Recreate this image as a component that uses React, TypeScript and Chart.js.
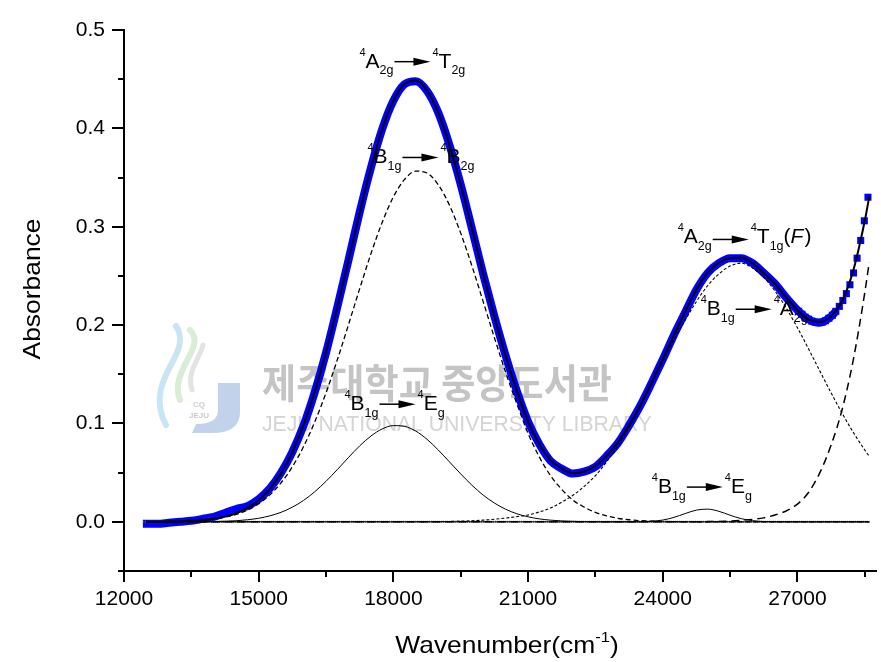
import React, { useEffect, useRef } from "react";
import { Chart, registerables } from "chart.js";

Chart.register(...registerables);

// ---------- DATA ----------
const gridWave = [
  12500, 12750, 13000, 13250, 13500, 13750, 14000, 14250, 14500, 14750,
  15000, 15250, 15500, 15750, 16000, 16250, 16500, 16750, 17000, 17250,
  17500, 17750, 18000, 18250, 18500, 18750, 19000, 19250, 19500, 19750,
  20000, 20250, 20500, 20750, 21000, 21250, 21500, 21750, 22000, 22250,
  22500, 22750, 23000, 23250, 23500, 23750, 24000, 24250, 24500, 24750,
  25000, 25250, 25500, 25750, 26000, 26250, 26500, 26750, 27000, 27250,
  27500, 27750, 28000, 28250, 28500, 28600,
];

// 4B1g -> 4B2g component (dashed)
const compB2g = [
  0.0001, 0.0001, 0.0003, 0.0005, 0.0009, 0.0016, 0.0028, 0.0047, 0.0076, 0.012,
  0.0184, 0.0274, 0.0398, 0.056, 0.0765, 0.1017, 0.1312, 0.1645, 0.2004, 0.2371,
  0.2725, 0.3044, 0.3303, 0.3481, 0.3565, 0.3546, 0.3427, 0.3218, 0.2935, 0.2601,
  0.2239, 0.1873, 0.1521, 0.1201, 0.09, 0.066, 0.047, 0.033, 0.022, 0.015,
  0.0095, 0.006, 0.0036, 0.0021, 0.0012, 0.0007, 0.0004, 0.0002, 0.0001, 0,
  0, 0, 0, 0, 0, 0, 0, 0, 0, 0,
  0, 0, 0, 0, 0, 0,
];

// 4B1g -> 4Eg component near 18000
const compEgLow = [
  0, 0, 0, 0, 0.0001, 0.0001, 0.0003, 0.0006, 0.0011, 0.0021,
  0.0036, 0.0061, 0.0097, 0.0149, 0.0218, 0.0306, 0.0412, 0.053, 0.0654, 0.0772,
  0.0872, 0.0944, 0.0978, 0.097, 0.0922, 0.0839, 0.073, 0.0609, 0.0487, 0.0372,
  0.0272, 0.0191, 0.0128, 0.0082, 0.0051, 0.003, 0.0017, 0.0009, 0.0005, 0.0002,
  0.0001, 0, 0, 0, 0, 0, 0, 0, 0, 0,
  0, 0, 0, 0, 0, 0, 0, 0, 0, 0,
  0, 0, 0, 0, 0, 0,
];

// 4B1g -> 4A2g component near 25600
const compA2g = [
  0, 0, 0, 0, 0, 0, 0, 0, 0, 0,
  0, 0, 0, 0, 0, 0, 0, 0, 0, 0,
  0, 0, 0, 0, 0.0001, 0.0001, 0.0002, 0.0004, 0.0007, 0.0011,
  0.0017, 0.0026, 0.0038, 0.0053, 0.007, 0.01, 0.014, 0.02, 0.027, 0.036,
  0.047, 0.061, 0.077, 0.096, 0.117, 0.14, 0.163, 0.185, 0.205, 0.224,
  0.24, 0.252, 0.26, 0.263, 0.258, 0.2485, 0.2347, 0.2173, 0.1973, 0.1756,
  0.1532, 0.1311, 0.11, 0.0905, 0.073, 0.0666,
];

// 4B1g -> 4Eg component near 25000
const compEgHigh = [
  0, 0, 0, 0, 0, 0, 0, 0, 0, 0,
  0, 0, 0, 0, 0, 0, 0, 0, 0, 0,
  0, 0, 0, 0, 0, 0, 0, 0, 0, 0,
  0, 0, 0, 0, 0, 0, 0, 0, 0, 0,
  0, 0, 0, 0, 0.0001, 0.0006, 0.0018, 0.0045, 0.0084, 0.0119,
  0.0129, 0.0107, 0.0067, 0.0032, 0.0012, 0.0003, 0.0001, 0, 0, 0,
  0, 0, 0, 0, 0, 0,
];

// UV edge band (long dashes)
const compUV = [
  0, 0, 0, 0, 0, 0, 0, 0, 0, 0,
  0, 0, 0, 0, 0, 0, 0, 0, 0, 0,
  0, 0, 0, 0, 0, 0, 0, 0, 0, 0,
  0, 0, 0, 0, 0, 0, 0, 0, 0, 0,
  0, 0, 0, 0, 0, 0, 0, 0, 0, 0,
  0.0002, 0.0004, 0.0008, 0.0015, 0.0025, 0.004, 0.007, 0.011, 0.018, 0.03,
  0.05, 0.078, 0.115, 0.166, 0.233, 0.264,
];

// cumulative fit (solid black)
const fitAbs = [
  0.0001, 0.0001, 0.0003, 0.0005, 0.001, 0.0017, 0.0031, 0.0053, 0.0087, 0.0141,
  0.022, 0.0335, 0.0495, 0.0709, 0.0983, 0.1323, 0.1724, 0.2175, 0.2658, 0.3143,
  0.3597, 0.3988, 0.4281, 0.4451, 0.4487, 0.4385, 0.4159, 0.383, 0.3429, 0.2984,
  0.2528, 0.209, 0.1689, 0.1336, 0.102, 0.079, 0.0627, 0.054, 0.0495, 0.0512,
  0.0566, 0.067, 0.0806, 0.0981, 0.1183, 0.1413, 0.1652, 0.1897, 0.2135, 0.2359,
  0.2533, 0.2634, 0.268, 0.2685, 0.263, 0.2528, 0.2418, 0.2283, 0.2153, 0.2056,
  0.2032, 0.2091, 0.225, 0.2565, 0.306, 0.3306,
];

// measured spectrum (blue squares)
const measuredWave = [
  12420, 12500, 12750, 13000, 13250, 13500, 13750, 14000, 14250, 14500, 14750,
  15000, 15250, 15500, 15750, 16000, 16250, 16500, 16750, 17000, 17250,
  17500, 17750, 18000, 18250, 18500, 18750, 19000, 19250, 19500, 19750,
  20000, 20250, 20500, 20750, 21000, 21250, 21500, 21750, 22000, 22250,
  22500, 22750, 23000, 23250, 23500, 23750, 24000, 24250, 24500, 24750,
  25000, 25250, 25500, 25750, 26000, 26250, 26500, 26750,
  27027, 27100, 27174, 27248, 27322, 27397, 27473, 27548, 27624, 27701,
  27778, 27855, 27933, 28011, 28090, 28169, 28249, 28329, 28409, 28490, 28571,
];
const measuredAbs = [
  -0.002, -0.002, -0.002, -0.001, 0.0, 0.001, 0.003, 0.005, 0.009, 0.013, 0.016,
  0.023, 0.034, 0.05, 0.071, 0.098, 0.132, 0.172, 0.218, 0.266, 0.315,
  0.36, 0.399, 0.428, 0.445, 0.448, 0.438, 0.416, 0.383, 0.343, 0.298,
  0.252, 0.209, 0.169, 0.133, 0.102, 0.079, 0.062, 0.054, 0.049, 0.051,
  0.056, 0.067, 0.08, 0.098, 0.118, 0.141, 0.165, 0.19, 0.213, 0.236,
  0.253, 0.263, 0.268, 0.268, 0.263, 0.253, 0.242, 0.228,
  0.214, 0.211, 0.208, 0.206, 0.204, 0.203, 0.2025, 0.203, 0.2045, 0.207,
  0.21, 0.214, 0.219, 0.225, 0.232, 0.241, 0.253, 0.268, 0.286, 0.306, 0.33,
];

const baselineWave = [12420, 28600];
const baselineAbs = [0, 0];

// axis ticks (major ones carry labels)
const xTickValues = [12000, 13500, 15000, 16500, 18000, 19500, 21000, 22500, 24000, 25500, 27000, 28500];
const xTickLabels = ["12000", "", "15000", "", "18000", "", "21000", "", "24000", "", "27000", ""];
const yTickValues = [-0.05, 0, 0.05, 0.1, 0.15, 0.2, 0.25, 0.3, 0.35, 0.4, 0.45, 0.5];
const yTickLabels = ["", "0.0", "", "0.1", "", "0.2", "", "0.3", "", "0.4", "", "0.5"];

// transition labels: anchor = (wavenumber, absorbance) of text baseline start
const transitionLabels = [
  { wn: 17244, abs: 0.4617, from: ["A", "2g"], to: ["T", "2g"], tail: "", dy: 6 },
  { wn: 17422, abs: 0.3643, from: ["B", "1g"], to: ["B", "2g"], tail: "", dy: 6 },
  { wn: 16911, abs: 0.1135, from: ["B", "1g"], to: ["E", "g"], tail: "", dy: 6 },
  { wn: 23756, abs: 0.0292, from: ["B", "1g"], to: ["E", "g"], tail: "", dy: 6 },
  { wn: 24333, abs: 0.283, from: ["A", "2g"], to: ["T", "1g"], tail: "F", dy: 4 },
  { wn: 24844, abs: 0.21, from: ["B", "1g"], to: ["A", "2g"], tail: "", dy: 6 },
];

const xTitle = "Wavenumber(cm";
const xTitleSup = "-1";
const yTitle = "Absorbance";
const watermarkKo = "제주대학교 중앙도서관";
const watermarkEn = "JEJU NATIONAL UNIVERSITY LIBRARY";

// ---------- helpers ----------
const FONT = "Arial, 'Liberation Sans', sans-serif";
const pts = (xs: number[], ys: number[]) => xs.map((x, i) => ({ x, y: ys[i] }));

function drawTransition(ctx: CanvasRenderingContext2D, x: number, y: number, lab: any) {
  ctx.save();
  ctx.fillStyle = "#000";
  ctx.strokeStyle = "#000";
  ctx.textBaseline = "alphabetic";
  ctx.textAlign = "left";
  let cx = x;
  const part = (letter: string, sub: string) => {
    ctx.font = `11px ${FONT}`;
    ctx.fillText("4", cx, y - 12);
    cx += ctx.measureText("4").width;
    ctx.font = `21px ${FONT}`;
    ctx.fillText(letter, cx, y);
    cx += ctx.measureText(letter).width;
    ctx.font = `12.5px ${FONT}`;
    ctx.fillText(sub, cx, y + 6.5);
    cx += ctx.measureText(sub).width;
  };
  part(lab.from[0], lab.from[1]);
  const ax0 = cx + 1;
  const ax1 = ax0 + 36;
  const ay = y - lab.dy;
  ctx.lineWidth = 1.5;
  ctx.beginPath();
  ctx.moveTo(ax0, ay);
  ctx.lineTo(ax1 - 12, ay);
  ctx.stroke();
  ctx.beginPath();
  ctx.moveTo(ax1, ay);
  ctx.lineTo(ax1 - 17, ay - 4);
  ctx.lineTo(ax1 - 17, ay + 4);
  ctx.closePath();
  ctx.fill();
  cx = ax1 + 2;
  part(lab.to[0], lab.to[1]);
  if (lab.tail) {
    ctx.font = `21px ${FONT}`;
    ctx.fillText("(", cx, y);
    cx += ctx.measureText("(").width;
    ctx.font = `italic 21px ${FONT}`;
    ctx.fillText(lab.tail, cx, y);
    cx += ctx.measureText(lab.tail).width + 1;
    ctx.font = `21px ${FONT}`;
    ctx.fillText(")", cx, y);
  }
  ctx.restore();
}

function drawWatermark(ctx: CanvasRenderingContext2D) {
  ctx.save();
  ctx.lineCap = "round";
  // logo swooshes
  ctx.lineWidth = 6;
  ctx.strokeStyle = "rgba(160,205,235,0.55)";
  ctx.beginPath();
  ctx.moveTo(166, 425);
  ctx.bezierCurveTo(150, 395, 168, 372, 176, 355);
  ctx.bezierCurveTo(183, 340, 180, 332, 176, 326);
  ctx.stroke();
  ctx.strokeStyle = "rgba(185,220,180,0.55)";
  ctx.beginPath();
  ctx.moveTo(180, 400);
  ctx.bezierCurveTo(172, 380, 188, 362, 193, 348);
  ctx.bezierCurveTo(196, 340, 194, 334, 190, 330);
  ctx.stroke();
  ctx.strokeStyle = "rgba(215,215,215,0.7)";
  ctx.lineWidth = 5;
  ctx.beginPath();
  ctx.moveTo(192, 390);
  ctx.bezierCurveTo(186, 372, 200, 358, 203, 345);
  ctx.stroke();
  // J
  ctx.fillStyle = "rgba(175,195,228,0.75)";
  ctx.beginPath();
  ctx.moveTo(218, 383);
  ctx.lineTo(240, 383);
  ctx.lineTo(240, 412);
  ctx.quadraticCurveTo(240, 433, 212, 433);
  ctx.lineTo(192, 433);
  ctx.lineTo(196, 424);
  ctx.quadraticCurveTo(218, 424, 218, 410);
  ctx.closePath();
  ctx.fill();
  ctx.fillStyle = "rgba(190,190,190,0.8)";
  ctx.font = `bold 8px ${FONT}`;
  ctx.textAlign = "center";
  ctx.fillText("CQ", 199, 407);
  ctx.fillText("JEJU", 199, 418);
  // Korean text
  ctx.textAlign = "left";
  ctx.textBaseline = "middle";
  ctx.fillStyle = "rgba(196,196,196,1)";
  ctx.font = `bold 40px 'Noto Sans CJK KR', sans-serif`;
  let w = ctx.measureText(watermarkKo).width;
  ctx.save();
  ctx.translate(262, 383);
  ctx.scale(350 / w, 1);
  ctx.fillText(watermarkKo, 0, 0);
  ctx.restore();
  // English text
  ctx.fillStyle = "rgba(212,212,212,1)";
  ctx.font = `22px ${FONT}`;
  w = ctx.measureText(watermarkEn).width;
  ctx.save();
  ctx.translate(262, 425);
  ctx.scale(390 / w, 1);
  ctx.fillText(watermarkEn, 0, 0);
  ctx.restore();
  ctx.restore();
}

const decorPlugin = {
  id: "decor",
  beforeDatasetsDraw(chart: any) {
    drawWatermark(chart.ctx);
  },
  afterDatasetsDraw(chart: any) {
    const ctx = chart.ctx;
    const xs = chart.scales.x;
    const ys = chart.scales.y;
    transitionLabels.forEach((lab) => {
      drawTransition(ctx, xs.getPixelForValue(lab.wn), ys.getPixelForValue(lab.abs), lab);
    });
  },
  afterDraw(chart: any) {
    const ctx: CanvasRenderingContext2D = chart.ctx;
    const xs = chart.scales.x;
    const ys = chart.scales.y;
    const area = chart.chartArea;
    ctx.save();
    ctx.strokeStyle = "#000";
    ctx.lineWidth = 2;
    xTickValues.forEach((v, i) => {
      const px = Math.round(xs.getPixelForValue(v));
      const major = xTickLabels[i] !== "";
      ctx.beginPath();
      ctx.moveTo(px, area.bottom);
      ctx.lineTo(px, area.bottom + (major ? 11 : 6));
      ctx.stroke();
    });
    yTickValues.forEach((v, i) => {
      const py = Math.round(ys.getPixelForValue(v));
      const major = yTickLabels[i] !== "";
      ctx.beginPath();
      ctx.moveTo(area.left, py);
      ctx.lineTo(area.left - (major ? 12 : 6), py);
      ctx.stroke();
    });
    // axis titles
    ctx.fillStyle = "#000";
    ctx.textBaseline = "alphabetic";
    ctx.font = `24px ${FONT}`;
    const mainW = ctx.measureText(xTitle).width;
    ctx.font = `15px ${FONT}`;
    const supW = ctx.measureText(xTitleSup).width;
    ctx.font = `24px ${FONT}`;
    const closeW = ctx.measureText(")").width;
    const sx = 1.1;
    const total = (mainW + supW + closeW) * sx;
    ctx.save();
    ctx.translate(507 - total / 2, 653);
    ctx.scale(sx, 1);
    ctx.textAlign = "left";
    ctx.fillText(xTitle, 0, 0);
    ctx.font = `15px ${FONT}`;
    ctx.fillText(xTitleSup, mainW, -11);
    ctx.font = `24px ${FONT}`;
    ctx.fillText(")", mainW + supW, 0);
    ctx.restore();
    ctx.save();
    ctx.translate(40, 289);
    ctx.rotate(-Math.PI / 2);
    ctx.scale(sx, 1);
    ctx.textAlign = "center";
    ctx.font = `24px ${FONT}`;
    ctx.fillText(yTitle, 0, 0);
    ctx.restore();
    ctx.restore();
  },
};

export default function App() {
  const ref = useRef<HTMLCanvasElement>(null);
  useEffect(() => {
    const canvas = ref.current;
    if (!canvas) return;
    const band = pts(measuredWave, measuredAbs).filter((p) => p.x <= 27860);
    const squares = pts(measuredWave, measuredAbs).filter((p) => p.x >= 27000);
    const lineBase = {
      pointRadius: 0,
      fill: false,
      cubicInterpolationMode: "monotone" as const,
      borderColor: "#000",
    };
    const chart = new Chart(canvas, {
      type: "line",
      data: {
        datasets: [
          { ...lineBase, label: "Fit", data: pts(gridWave, fitAbs), borderWidth: 2, order: 0 },
          { ...lineBase, label: "4B1g-4B2g", data: pts(gridWave, compB2g), borderWidth: 1.3, borderDash: [5, 3], order: 1 },
          { ...lineBase, label: "4B1g-4Eg (low)", data: pts(gridWave, compEgLow), borderWidth: 1, order: 2 },
          { ...lineBase, label: "4B1g-4A2g", data: pts(gridWave, compA2g), borderWidth: 1.1, borderDash: [3, 2], order: 3 },
          { ...lineBase, label: "4B1g-4Eg (high)", data: pts(gridWave, compEgHigh), borderWidth: 1, order: 4 },
          { ...lineBase, label: "UV", data: pts(gridWave, compUV), borderWidth: 1.5, borderDash: [8, 5], order: 5 },
          { ...lineBase, label: "Baseline", data: pts(baselineWave, baselineAbs), borderWidth: 2, borderDash: [1, 1], borderColor: "#555", order: 6 },
          {
            label: "Measured",
            data: squares,
            showLine: false,
            pointStyle: "rect",
            pointRadius: 5,
            pointBorderWidth: 0,
            pointBackgroundColor: "#0000ff",
            borderColor: "#0000ff",
            order: 7,
          },
          {
            ...lineBase,
            label: "Measured band",
            data: band,
            borderWidth: 8,
            borderColor: "#0000ff",
            borderCapStyle: "butt",
            order: 8,
          },
        ],
      },
      options: {
        responsive: false,
        animation: false,
        events: [],
        layout: { padding: { top: 30, right: 3, left: 0, bottom: 0 } },
        plugins: { legend: { display: false }, tooltip: { enabled: false }, title: { display: false } },
        scales: {
          x: {
            type: "linear",
            min: 12000,
            max: 28750,
            afterBuildTicks: (s: any) => {
              s.ticks = xTickValues.map((value) => ({ value }));
            },
            afterFit: (s: any) => {
              s.height = 91;
            },
            border: { display: true, color: "#000", width: 2 },
            grid: { display: true, drawOnChartArea: false, drawTicks: true, tickLength: 11, color: "rgba(0,0,0,0)" },
            ticks: {
              autoSkip: false,
              maxRotation: 0,
              padding: 5,
              color: "#000",
              font: { family: FONT, size: 21 },
              callback: (_v: any, i: number) => xTickLabels[i] ?? "",
            },
          },
          y: {
            type: "linear",
            min: -0.05,
            max: 0.5,
            afterBuildTicks: (s: any) => {
              s.ticks = yTickValues.map((value) => ({ value }));
            },
            afterFit: (s: any) => {
              s.width = 124;
            },
            border: { display: true, color: "#000", width: 2 },
            grid: { display: true, drawOnChartArea: false, drawTicks: true, tickLength: 12, color: "rgba(0,0,0,0)" },
            ticks: {
              autoSkip: false,
              padding: 7,
              color: "#000",
              font: { family: FONT, size: 21 },
              callback: (_v: any, i: number) => yTickLabels[i] ?? "",
            },
          },
        },
      },
      plugins: [decorPlugin],
    } as any);
    return () => chart.destroy();
  }, []);
  return (
    <div style={{ position: "absolute", left: 0, top: 0, width: 881, height: 662, background: "#fff" }}>
      <canvas ref={ref} width={881} height={662} style={{ display: "block", width: 881, height: 662 }} />
    </div>
  );
}
